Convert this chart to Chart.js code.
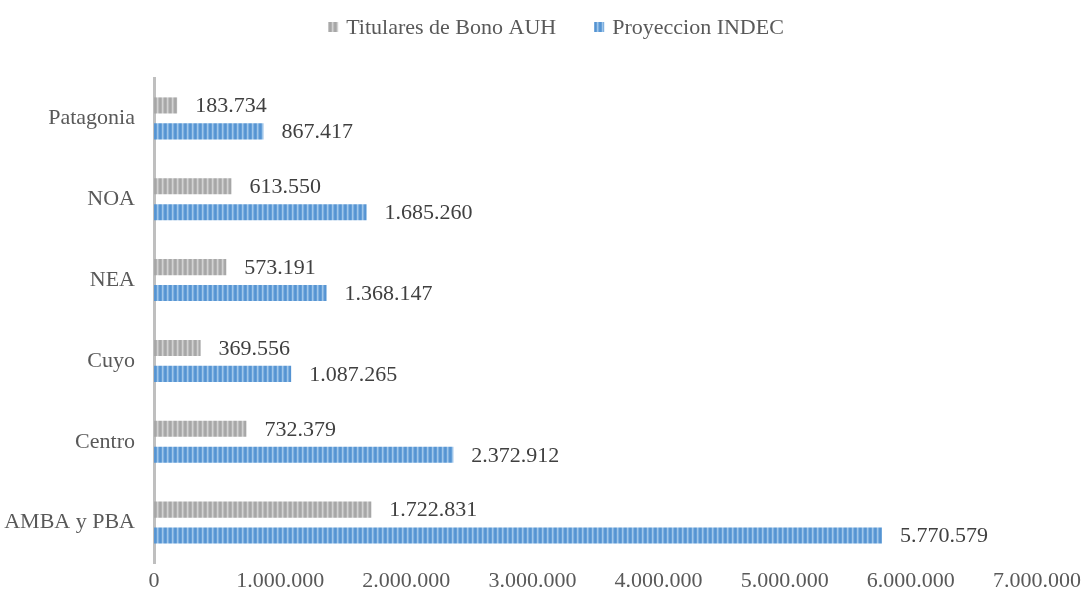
<!DOCTYPE html>
<html>
<head>
<meta charset="utf-8">
<script src="https://cdn.jsdelivr.net/npm/chart.js@4"></script>
<style>
  html, body { margin: 0; padding: 0; background: #fff; }
  #wrap { width: 1086px; height: 597px; }
</style>
</head>
<body>
<div id="wrap"><canvas id="barChart"></canvas></div>
<script>
const regions = ['Patagonia', 'NOA', 'NEA', 'Cuyo', 'Centro', 'AMBA y PBA'];
const titularesAUH = [183734, 613550, 573191, 369556, 732379, 1722831];
const proyeccionINDEC = [867417, 1685260, 1368147, 1087265, 2372912, 5770579];
const xTicks = [0, 1000000, 2000000, 3000000, 4000000, 5000000, 6000000, 7000000];

const FONT = "'Liberation Serif', 'DejaVu Serif', serif";
const FONT_SIZE = 22;

// vertical stripes like the original fill
function stripes(cols) {
    const c = document.createElement('canvas');
    c.width = cols.length;
    c.height = 4;
    const g = c.getContext('2d');
    cols.forEach((col, i) => {
        g.fillStyle = col;
        g.fillRect(i, 0, 1, 4);
    });
    return g.createPattern(c, 'repeat');
}

const grayFill = stripes(['#a6a6a6', '#b2b2b2', '#d2d2d2', '#bdbdbd', '#a9a9a9']);
const blueFill = stripes(['#5593d2', '#65a0d8', '#a0c6ea', '#7fb0e0', '#5b98d4']);

function fmt(n) {
    return String(n).replace(/\B(?=(\d{3})+(?!\d))/g, '.');
}

const valueLabels = {
    id: 'valueLabels',
    afterDatasetsDraw(chart) {
        const ctx = chart.ctx;
        ctx.save();
        ctx.font = FONT_SIZE + 'px ' + FONT;
        ctx.fillStyle = '#404040';
        ctx.textBaseline = 'middle';
        ctx.textAlign = 'left';
        chart.data.datasets.forEach((ds, i) => {
            chart.getDatasetMeta(i).data.forEach((bar, j) => {
                ctx.fillText(fmt(ds.data[j]), bar.x + 18, bar.y + 1);
            });
        });
        ctx.restore();
    }
};

// legend drawn by hand so the spacing between entries can be wider
const topLegend = {
    id: 'topLegend',
    afterDraw(chart) {
        const ctx = chart.ctx;
        const centerX = 556, y = 27, box = 10, textGap = 8, itemGap = 38;
        ctx.save();
        ctx.font = FONT_SIZE + 'px ' + FONT;
        ctx.textBaseline = 'middle';
        const items = chart.data.datasets.map(ds => ({
            text: ds.label,
            fill: ds.backgroundColor,
            w: box + textGap + ctx.measureText(ds.label).width
        }));
        const total = items.reduce((s, it) => s + it.w, 0) + itemGap * (items.length - 1);
        let x = centerX - total / 2;
        items.forEach(it => {
            ctx.fillStyle = it.fill;
            ctx.fillRect(x, y - box / 2, box, box);
            ctx.fillStyle = '#595959';
            ctx.fillText(it.text, x + box + textGap, y + 1);
            x += it.w + itemGap;
        });
        ctx.restore();
    }
};

const ctx = document.getElementById('barChart').getContext('2d');

const chart = new Chart(ctx, {
    type: 'bar',
    data: {
        labels: regions,
        datasets: [{
            label: 'Titulares de Bono AUH',
            data: titularesAUH,
            backgroundColor: grayFill,
            borderWidth: 0,
        }, {
            label: 'Proyeccion INDEC',
            data: proyeccionINDEC,
            backgroundColor: blueFill,
            borderWidth: 0,
        }],
    },
    options: {
        indexAxis: 'y',
        responsive: true,
        maintainAspectRatio: false,
        animation: false,
        categoryPercentage: 0.642,
        barPercentage: 0.62,
        layout: {
            padding: { top: 78, right: 4, left: 0, bottom: 0 }
        },
        plugins: {
            legend: { display: false },
            tooltip: { enabled: false },
        },
        scales: {
            x: {
                min: 0,
                max: 7000000,
                afterBuildTicks: (scale) => {
                    scale.ticks = xTicks.map(v => ({ value: v }));
                },
                afterFit: (scale) => { scale.height = 34; },
                grid: { display: false, drawTicks: false },
                border: { display: false },
                ticks: {
                    padding: 5,
                    color: '#595959',
                    font: { family: FONT, size: FONT_SIZE },
                    callback: (v) => fmt(v),
                    maxRotation: 0,
                    autoSkip: false,
                }
            },
            y: {
                afterFit: (scale) => { scale.width = 154; },
                grid: { display: false, drawTicks: false },
                border: { display: true, color: '#bfbfbf', width: 3 },
                ticks: {
                    padding: 19,
                    color: '#595959',
                    font: { family: FONT, size: FONT_SIZE },
                }
            }
        }
    },
    plugins: [valueLabels, topLegend]
});
</script>
</body>
</html>
